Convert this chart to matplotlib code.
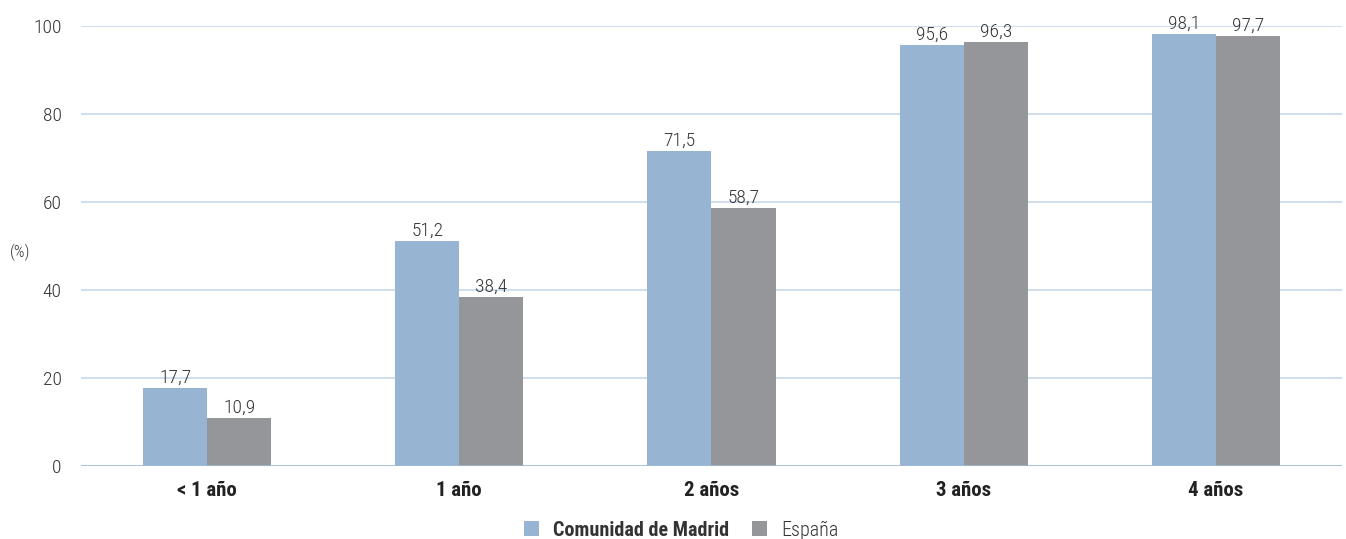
import matplotlib.pyplot as plt
import numpy as np

categories = ["< 1 año", "1 año", "2 años", "3 años", "4 años"]
madrid = [17.7, 51.2, 71.5, 95.6, 98.1]
espana = [10.9, 38.4, 58.7, 96.3, 97.7]
series_names = ["Comunidad de Madrid", "España"]
yticks = [0, 20, 40, 60, 80, 100]

plt.rcParams["font.family"] = ["Roboto Condensed", "DejaVu Sans"]

BLUE = "#97b5d3"
GRAY = "#95969a"
TEXT = "#333333"

fig = plt.figure(figsize=(13.46, 5.39), dpi=100)
ax = fig.add_axes([0.0602, 0.1354, 0.9368, 0.8164])

x = np.arange(len(categories))
w = 0.254
b1 = ax.bar(x - w / 2, madrid, w, color=BLUE, label=series_names[0], zorder=3)
b2 = ax.bar(x + w / 2, espana, w, color=GRAY, label=series_names[1], zorder=3)

# value labels with comma decimal separator
for bars, vals in [(b1, madrid), (b2, espana)]:
    for rect, v in zip(bars, vals):
        ax.annotate(f"{v:.1f}".replace(".", ","),
                    (rect.get_x() + rect.get_width() / 2, v),
                    xytext=(0, 1), textcoords="offset points",
                    ha="center", va="bottom", fontsize=14, fontweight="light",
                    color=TEXT, annotation_clip=False, zorder=4)

ax.set_xlim(-0.5, len(categories) - 0.5)
ax.set_ylim(0, 100)
ax.set_yticks(yticks)
ax.set_yticklabels([str(t) for t in yticks], fontsize=14, fontweight="light", color=TEXT)
ax.set_xticks(x)
ax.set_xticklabels(categories, fontsize=15, fontweight="bold", color="#222222")
ax.tick_params(axis="both", length=0)
ax.tick_params(axis="y", pad=14)
ax.tick_params(axis="x", pad=11)

ax.grid(axis="y", color="#c8d8e9", linewidth=1.2, zorder=0)
ax.axhline(0, color="#9dbbdb", linewidth=1.8, zorder=4)
for s in ax.spines.values():
    s.set_visible(False)

fig.text(20 / 1346, 1 - 252 / 539, "(%)", fontsize=12, fontweight="light",
         color=TEXT, ha="center", va="center")

leg = fig.legend(handles=[b1, b2], labels=series_names, loc="lower center",
                 bbox_to_anchor=(0.506, -0.035), ncol=2, frameon=False,
                 fontsize=14.5, handlelength=0.75, handleheight=0.75,
                 columnspacing=1.1, handletextpad=0.7)
leg.get_texts()[0].set_fontweight("bold")
leg.get_texts()[1].set_fontweight("light")
for t in leg.get_texts():
    t.set_color(TEXT)

fig.savefig("out.png", dpi=100)
